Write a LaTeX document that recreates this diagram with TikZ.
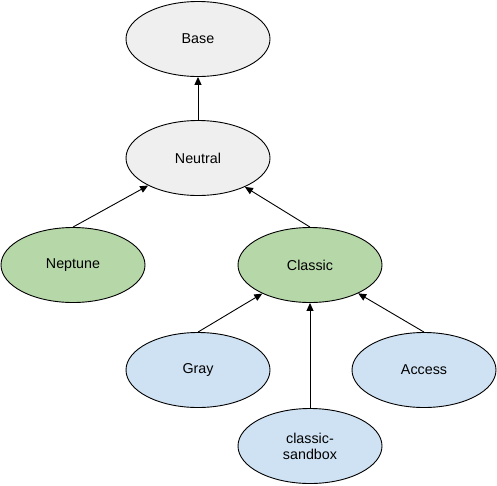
\documentclass[tikz,border=0pt]{standalone}
\usepackage{fontspec}
\setmainfont{Liberation Sans}
\usetikzlibrary{shapes.geometric,arrows.meta}
\definecolor{basegray}{HTML}{EFEFEF}
\definecolor{themegreen}{HTML}{B6D7A8}
\definecolor{childblue}{HTML}{CFE2F3}
\begin{document}
\begin{tikzpicture}[x=1pt,y=-1pt,
  theme/.style={ellipse,draw,line width=0.9pt,minimum width=144pt,minimum height=75pt,
    inner sep=0pt,align=center,font=\fontsize{14.3}{16}\selectfont},
  link/.style={line width=0.9pt,-{Triangle[length=8pt,width=7pt]}}]

\useasboundingbox (0,0) rectangle (497,485);

% Racine
\node[theme,fill=basegray] (base) at (198,39) {Base};
\node[theme,fill=basegray] (neutral) at (198,158) {Neutral};

% Themes
\node[theme,fill=themegreen] (neptune) at (73,265) {Neptune};
\node[theme,fill=themegreen] (classic) at (310,265) {Classic};

% Variantes
\node[theme,fill=childblue] (gray) at (198,370) {Gray};
\node[theme,fill=childblue] (access) at (424,370) {Access};
\node[theme,fill=childblue] (sandbox) at (310,446) {classic-\\sandbox};

\draw[link] (neutral.north) -- (base);
\draw[link] (neptune.north) -- (neutral);
\draw[link] (classic.north) -- (neutral);
\draw[link] (gray.north) -- (classic);
\draw[link] (sandbox.north) -- (classic);
\draw[link] (access.north) -- (classic);
\end{tikzpicture}
\end{document}
